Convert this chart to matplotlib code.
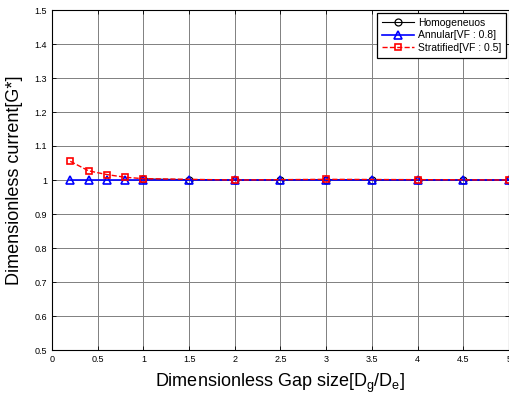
import matplotlib
matplotlib.use("Agg")
import matplotlib.pyplot as plt
import numpy as np

plt.rcParams['font.family'] = ['Liberation Sans', 'DejaVu Sans']

# data
x_homo = [1, 1.5, 2, 2.5, 3, 3.5, 4, 4.5, 5]
y_homo = [1.003, 1.001, 1.0, 1.0, 1.001, 1.0, 1.0, 1.0, 1.0]

x_ann = [0.2, 0.4, 0.6, 0.8, 1, 1.5, 2, 2.5, 3, 3.5, 4, 4.5, 5]
y_ann = [1.0, 1.0, 1.0, 1.0, 1.0, 1.0, 1.0, 1.0, 1.0, 1.0, 1.0, 1.0, 1.0]

x_strat = [0.2, 0.4, 0.6, 0.8, 1, 2, 3, 4, 5]
y_strat = [1.055, 1.027, 1.016, 1.008, 1.004, 1.0, 1.002, 1.001, 1.0]

xticks = [0, 0.5, 1, 1.5, 2, 2.5, 3, 3.5, 4, 4.5, 5]
xticklabels = ['0', '0.5', '1', '1.5', '2', '2.5', '3', '3.5', '4', '4.5', '5']
yticks = [0.5, 0.6, 0.7, 0.8, 0.9, 1.0, 1.1, 1.2, 1.3, 1.4, 1.5]
yticklabels = ['0.5', '0.6', '0.7', '0.8', '0.9', '1', '1.1', '1.2', '1.3', '1.4', '1.5']

fig = plt.figure(figsize=(5.1, 4.03), dpi=100)
ax = fig.add_axes([52 / 510, 1 - 350 / 403, 457 / 510, 340 / 403])

ax.plot(x_homo, y_homo, '-o', color='black', lw=0.8, ms=5, mfc='none', mew=0.9,
        label='Homogeneuos')
ax.plot(x_ann, y_ann, '-^', color='blue', lw=1.2, ms=6, mfc='none', mew=1.2,
        label='Annular[VF : 0.8]')
ax.plot(x_strat, y_strat, '--s', color='red', lw=1.0, ms=5, mfc='none', mew=1.2,
        label='Stratified[VF : 0.5]')

ax.set_xlim(0, 5)
ax.set_ylim(0.5, 1.5)
ax.set_xticks(xticks)
ax.set_xticklabels(xticklabels)
ax.set_yticks(yticks)
ax.set_yticklabels(yticklabels)
ax.tick_params(direction='in', top=True, right=True, labelsize=6.5, length=3, width=0.6)
ax.grid(True, color='0.5', lw=0.7)
for s in ax.spines.values():
    s.set_linewidth(0.8)

ax.set_xlabel('Dimensionless Gap size[D$_\\mathregular{g}$/D$_\\mathregular{e}$]',
              fontsize=13, labelpad=6)
ax.set_ylabel('Dimensionless current[G*]', fontsize=13, labelpad=8)

leg = ax.legend(loc='upper right', fontsize=7.5, frameon=True, fancybox=False,
                edgecolor='black', framealpha=1, handlelength=3.0, borderaxespad=0.25,
                labelspacing=0.25, handletextpad=0.4, borderpad=0.5)
leg.get_frame().set_linewidth(0.9)

fig.savefig('out.png', dpi=100)
